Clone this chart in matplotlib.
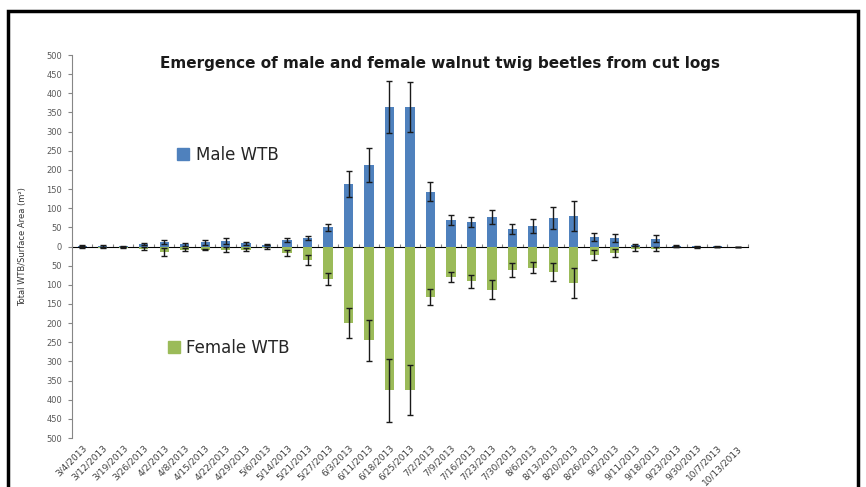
import matplotlib.pyplot as plt
import numpy as np
from matplotlib.patches import Patch, Rectangle
from matplotlib.ticker import FuncFormatter, MultipleLocator

dates = ['3/4/2013', '3/12/2013', '3/19/2013', '3/26/2013', '4/2/2013', '4/8/2013',
         '4/15/2013', '4/22/2013', '4/29/2013', '5/6/2013', '5/14/2013', '5/21/2013',
         '5/27/2013', '6/3/2013', '6/11/2013', '6/18/2013', '6/25/2013', '7/2/2013',
         '7/9/2013', '7/16/2013', '7/23/2013', '7/30/2013', '8/6/2013', '8/13/2013',
         '8/20/2013', '8/26/2013', '9/2/2013', '9/11/2013', '9/18/2013', '9/23/2013',
         '9/30/2013', '10/7/2013', '10/13/2013']

male = [2, 2, 1, 6, 11, 6, 11, 14, 9, 5, 17, 22, 50, 163, 213, 365, 365, 143,
        68, 63, 78, 46, 53, 75, 80, 24, 22, 4, 20, 2, 1, 1, 0]
male_err = [1, 2, 1, 3, 5, 4, 6, 8, 4, 2, 6, 5, 10, 35, 45, 68, 65, 25,
            13, 13, 18, 13, 19, 28, 39, 10, 10, 2, 9, 1, 1, 1, 0]
female = [2, 3, 3, 6, 14, 9, 8, 8, 8, 4, 17, 35, 85, 200, 245, 375, 375, 132,
          80, 91, 113, 61, 55, 67, 95, 23, 17, 6, 6, 1, 2, 1, 0]
female_err = [1, 2, 1, 4, 10, 4, 2, 7, 3, 2, 8, 12, 16, 40, 54, 82, 65, 22,
              13, 17, 25, 19, 14, 24, 40, 13, 11, 7, 6, 1, 1, 1, 0]

blue = '#4F81BD'
green = '#9BBB59'
axis_grey = '#868686'
text_grey = '#595959'

plt.rcParams['font.family'] = ['DejaVu Sans']

fig = plt.figure(figsize=(8.66, 4.87), dpi=100)
ax = fig.add_axes([0.0831, 0.1006, 0.7806, 0.7864])

x = np.arange(len(dates))
err_style = dict(ecolor='#1a1a1a', elinewidth=1.0, capsize=2.2, capthick=1.0)
ax.bar(x, male, width=0.45, color=blue, yerr=male_err, error_kw=err_style, zorder=2)
ax.bar(x, -np.array(female), width=0.45, color=green, yerr=female_err,
       error_kw=err_style, zorder=2)

ax.set_xlim(-0.5, len(dates) - 0.5)
ax.set_ylim(-500, 500)

# y axis shows magnitudes both ways
ax.yaxis.set_major_locator(MultipleLocator(50))
ax.yaxis.set_major_formatter(FuncFormatter(lambda v, p: '%d' % abs(v)))
ax.tick_params(axis='y', length=3, color=axis_grey, labelsize=6, labelcolor=text_grey, pad=4)

ax.set_xticks(x)
ax.set_xticklabels(dates, rotation=45, ha='right', rotation_mode='anchor',
                   fontsize=6.5, color='#404040')
ax.tick_params(axis='x', length=0, pad=4)

for s in ['top', 'right', 'bottom']:
    ax.spines[s].set_visible(False)
ax.spines['left'].set_color(axis_grey)

# category axis through zero
zero_ax = ax.secondary_xaxis(0.5)
zero_ax.set_xticks(np.arange(len(dates) + 1) - 0.5)
zero_ax.set_xticklabels([])
zero_ax.tick_params(axis='x', direction='out', length=2.5, color=axis_grey)
zero_ax.spines['bottom'].set_color(axis_grey)
zero_ax.spines['bottom'].set_zorder(1)

ax.set_ylabel('Total WTB/Surface Area (m\u00b2)', fontsize=6, color='#333333')
ax.yaxis.set_label_coords(-0.066, 0.5)

ax.text(0.545, 0.979, 'Emergence of male and female walnut twig beetles from cut logs',
        transform=ax.transAxes, ha='center', va='center', fontsize=11,
        fontweight='bold', color='#1a1a1a')

leg_male = ax.legend([Patch(color=blue)], ['Male WTB'], loc='center left',
                     bbox_to_anchor=(0.146, 0.739), frameon=False, fontsize=12,
                     handlelength=0.7, handleheight=0.7, handletextpad=0.4,
                     borderaxespad=0, labelcolor='#262626')
ax.add_artist(leg_male)
ax.legend([Patch(color=green)], ['Female WTB'], loc='center left',
          bbox_to_anchor=(0.132, 0.235), frameon=False, fontsize=12,
          handlelength=0.7, handleheight=0.7, handletextpad=0.4,
          borderaxespad=0, labelcolor='#262626')

# page frame around the chart
fig.patches.append(Rectangle((8 / 866, -0.1), 850 / 866, 1.1 - 11 / 487,
                             transform=fig.transFigure, fill=False,
                             edgecolor='black', linewidth=2.5))

fig.savefig('out.png', dpi=100)
